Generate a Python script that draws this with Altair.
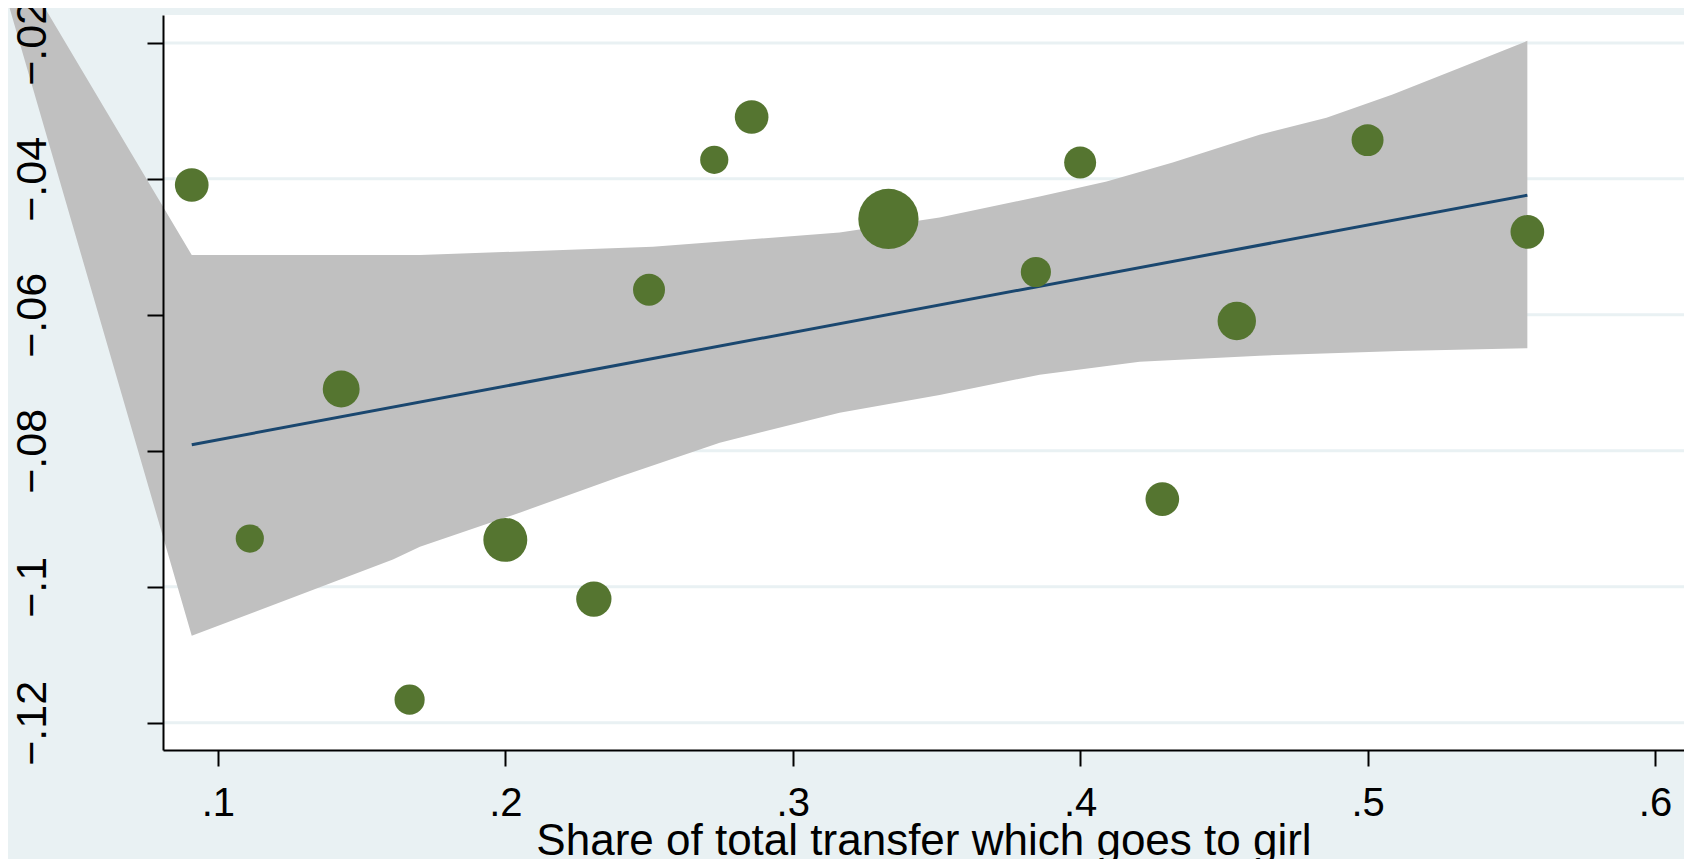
import altair as alt
import pandas as pd

# ---- data ----
share = [0.0909, 0.1111, 0.1429, 0.1667, 0.2000, 0.2308, 0.2500, 0.2727,
         0.2857, 0.3333, 0.3846, 0.4000, 0.4286, 0.4545, 0.5000, 0.5556]
effect = [-0.0409, -0.0929, -0.0709, -0.1166, -0.0931, -0.1018, -0.0563, -0.0372,
          -0.0309, -0.0459, -0.0537, -0.0376, -0.0871, -0.0609, -0.0343, -0.0478]
weight = [10, 7, 12, 8, 17, 11, 9, 7, 10, 32, 8, 9, 10, 13, 9, 10]

fit_x = [0.0909, 0.5556]
fit_y = [-0.0791, -0.0424]

ci_upper_x = [0.0909, 0.1703, 0.2513, 0.3163, 0.3511, 0.3859, 0.4092, 0.4322,
              0.4624, 0.4857, 0.5087, 0.5320, 0.5556]
ci_upper_y = [-0.0512, -0.0512, -0.0500, -0.0479, -0.0457, -0.0426, -0.0404, -0.0376,
              -0.0335, -0.0310, -0.0276, -0.0237, -0.0197]
ci_lower_x = [0.0909, 0.1609, 0.1703, 0.2050, 0.2398, 0.2746, 0.3163, 0.3511,
              0.3859, 0.4207, 0.4624, 0.5111, 0.5556]
ci_lower_y = [-0.1072, -0.0960, -0.0941, -0.0891, -0.0838, -0.0788, -0.0744, -0.0718,
              -0.0688, -0.0669, -0.0660, -0.0653, -0.0649]
# stray first vertex of the band polygon (drawn outside the plot region)
ci_stray_x = [0.0158]
ci_stray_y = [0.0022]

x_ticks = [0.1, 0.2, 0.3, 0.4, 0.5, 0.6]
y_ticks = [-0.12, -0.10, -0.08, -0.06, -0.04, -0.02]
x_title = "Share of total transfer which goes to girl"

X_DOMAIN = [0.0809, 0.6101]
Y_DOMAIN = [-0.1240, -0.0159]

# ---- tables ----
pts = pd.DataFrame({"x": share, "y": effect, "w": weight})
fit = pd.DataFrame({"x": fit_x, "y": fit_y})
poly_x = ci_stray_x + ci_upper_x + ci_lower_x[::-1]
poly_y = ci_stray_y + ci_upper_y + ci_lower_y[::-1]
band = pd.DataFrame({"x": poly_x, "y": poly_y, "i": list(range(len(poly_x)))})
grid = pd.DataFrame({"y": y_ticks})

FONT = "Liberation Sans"
BG = "#e9f1f3"
lab = "replace(format(datum.value, '.2~f'), '0.', '.')"

x_axis = alt.Axis(values=x_ticks, title=x_title, grid=False,
                  domainColor="black", domainWidth=2,
                  tickColor="black", tickWidth=2, tickSize=16,
                  labelFont=FONT, labelFontSize=40, labelColor="black",
                  labelBaseline="alphabetic", labelPadding=49, labelExpr=lab,
                  labelOverlap=False, labelFlush=False,
                  titleFont=FONT, titleFontSize=44, titleFontWeight="normal",
                  titleColor="black", titleBaseline="alphabetic", titleY=104,
                  zindex=1)
y_axis = alt.Axis(values=y_ticks, title="", grid=False,
                  domainColor="black", domainWidth=2,
                  tickColor="black", tickWidth=2, tickSize=16,
                  labelFont=FONT, labelFontSize=43, labelColor="black",
                  labelAngle=270, labelAlign="center", labelBaseline="alphabetic",
                  labelPadding=102, labelExpr=lab,
                  labelOverlap=False, labelFlush=False, zindex=1)

X = alt.X("x:Q", scale=alt.Scale(domain=X_DOMAIN, nice=False, zero=False), axis=x_axis)
Y = alt.Y("y:Q", scale=alt.Scale(domain=Y_DOMAIN, nice=False, zero=False), axis=y_axis)

grid_layer = alt.Chart(grid).mark_rule(color=BG, strokeWidth=3).encode(y=Y)

band_layer = alt.Chart(band).mark_line(filled=True, color="#c0c0c0", clip=False).encode(
    x=X, y=Y, order=alt.Order("i:Q"))

fit_layer = alt.Chart(fit).mark_line(color="#1a476f", strokeWidth=3).encode(x=X, y=Y)

pt_layer = alt.Chart(pts).mark_circle(color="#557530", opacity=1).encode(
    x=X, y=Y,
    size=alt.Size("w:Q", scale=alt.Scale(domain=[0, 32], range=[0, 3632]), legend=None))

chart = alt.layer(grid_layer, band_layer, fit_layer, pt_layer).properties(
    width=1521, height=735,
    autosize=alt.AutoSizeParams(type="none"),
    padding={"left": 155, "top": 7, "right": 0, "bottom": 109},
    background=BG,
).configure_view(fill="white", strokeWidth=0)

chart.save("out.html", embed_options={"renderer": "svg", "actions": False})
